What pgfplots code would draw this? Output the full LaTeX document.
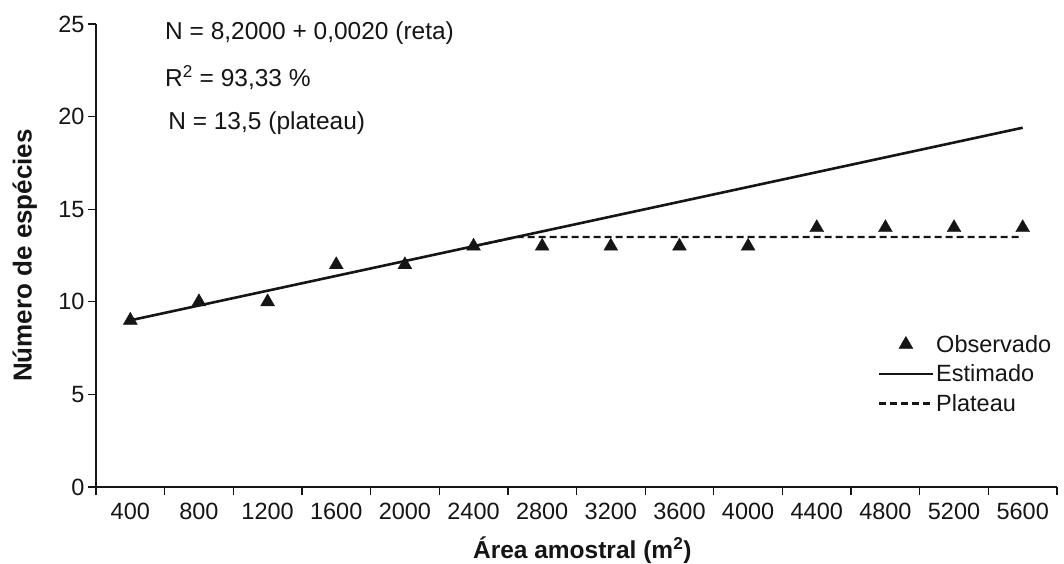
\documentclass[border=0pt]{standalone}
\usepackage{fontspec}
\setmainfont{Liberation Sans}
\usepackage{pgfplots}
\pgfplotsset{compat=1.18}
\definecolor{ink}{HTML}{151515}
\begin{document}
\begin{tikzpicture}[x=1pt,y=1pt]
\path[use as bounding box] (-96,-76) rectangle (968,487);
\begin{axis}[
  at={(0,0)}, anchor=south west,
  scale only axis, width=961pt, height=463pt,
  xmin=-0.5, xmax=13.5, ymin=0, ymax=25,
  clip=false,
  axis x line*=bottom, axis y line*=left,
  axis line style={-, line width=1.6pt, ink},
  tick align=outside,
  major tick length=8pt,
  every tick/.style={ink, line width=1.3pt},
  xtick={-0.5,0.5,1.5,2.5,3.5,4.5,5.5,6.5,7.5,8.5,9.5,10.5,11.5,12.5,13.5},
  xticklabels={},
  extra x ticks={0,1,2,3,4,5,6,7,8,9,10,11,12,13},
  extra x tick labels={400,800,1200,1600,2000,2400,2800,3200,3600,4000,4400,4800,5200,5600},
  extra x tick style={major tick length=0pt, xticklabel style={yshift=-13pt}},
  ytick={0,5,10,15,20,25},
  /pgf/number format/assume math mode=true,
  tick label style={font=\fontsize{23.5}{27}\selectfont, text=ink},
  xlabel={\textbf{Área amostral (m\textsuperscript{2})}},
  ylabel={\textbf{Número de espécies}},
  xlabel style={at={(axis description cs:0.506,-0.136)}, anchor=center, font=\fontsize{24.5}{28}\selectfont, text=ink},
  ylabel style={at={(axis description cs:-0.074,0.5)}, anchor=center, font=\fontsize{26}{30}\selectfont, text=ink},
  legend style={draw=none, fill=none, at={(0.81,0.337)}, anchor=north west,
    font=\fontsize{23.5}{27}\selectfont, text=ink, row sep=7pt},
  legend cell align=left,
  legend image code/.code={\draw[mark repeat=2,mark phase=2,#1] plot coordinates {(0pt,0pt)(27pt,0pt)(54pt,0pt)};},
]
\addplot[only marks, mark=triangle*, mark size=8pt, ink, mark options={solid, line width=0.4pt}]
  coordinates {(0,9)(1,10)(2,10)(3,12)(4,12)(5,13)(6,13)(7,13)(8,13)(9,13)(10,14)(11,14)(12,14)(13,14)};
\addlegendentry{Observado}
\addplot[ink, line width=2.6pt] coordinates {(0,9.0)(13,19.4)};
\addlegendentry{Estimado}
\addplot[ink, line width=2.4pt, dash pattern=on 7pt off 4pt] coordinates {(5,13.0)(5.625,13.5)(13,13.5)};
\addlegendentry{Plateau}
\node[anchor=west, inner sep=0pt, font=\fontsize{24.5}{28}\selectfont, text=ink] at (axis cs:0.505,24.5) {N = 8,2000 + 0,0020 (reta)};
\node[anchor=west, inner sep=0pt, font=\fontsize{24.5}{28}\selectfont, text=ink] at (axis cs:0.505,22.1) {R\textsuperscript{2} = 93,33 \%};
\node[anchor=west, inner sep=0pt, font=\fontsize{24.5}{28}\selectfont, text=ink] at (axis cs:0.55,19.65) {N = 13,5 (plateau)};
\end{axis}
\end{tikzpicture}
\end{document}
